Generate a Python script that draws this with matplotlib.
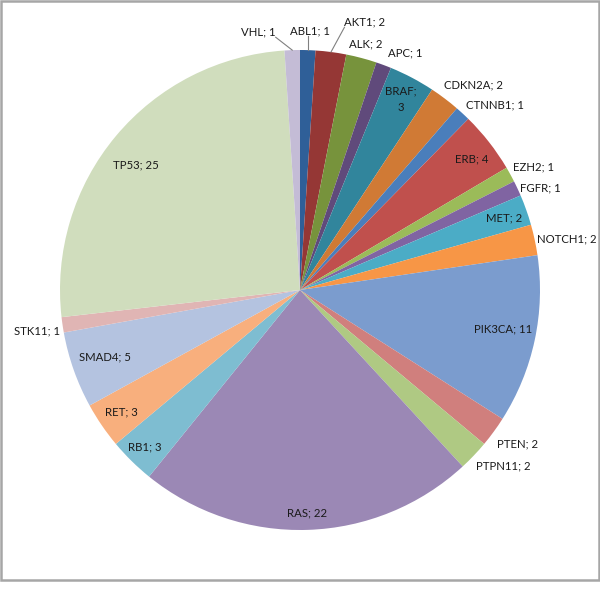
import numpy as np
import matplotlib
matplotlib.use("Agg")
import matplotlib.pyplot as plt
from matplotlib.patches import Rectangle

# gene counts, clockwise from 12 o'clock
genes = ["ABL1", "AKT1", "ALK", "APC", "BRAF", "CDKN2A", "CTNNB1", "ERB",
         "EZH2", "FGFR", "MET", "NOTCH1", "PIK3CA", "PTEN", "PTPN11", "RAS",
         "RB1", "RET", "SMAD4", "STK11", "TP53", "VHL"]
counts = [1, 2, 2, 1, 3, 2, 1, 4, 1, 1, 2, 2, 11, 2, 2, 22, 3, 3, 5, 1, 25, 1]

colors = ["#2F5F98", "#953735", "#77933C", "#604A7B", "#31859C", "#D07A35",
          "#4A7EBB", "#C0504D", "#9BBB59", "#8064A2", "#4BACC6", "#F79646",
          "#7B9CCE", "#D07F7D", "#AFC983", "#9B88B5", "#7EBDD1", "#F8AF7D",
          "#B4C3E0", "#E0B5B4", "#D0DDBD", "#C4BCD6"]

# label placement: (distance in radii, angle shift in degrees)
label_pos = {
    "ABL1": (1.08, 0.3), "AKT1": (1.15, 6.2), "ALK": (1.06, 0.2),
    "APC": (1.08, 3.6), "BRAF": (0.90, 0), "CDKN2A": (1.12, 3.2),
    "CTNNB1": (1.12, 3.7), "ERB": (0.90, 0.8), "EZH2": (1.10, 0.9),
    "FGFR": (1.09, 2.0), "MET": (0.90, 0), "NOTCH1": (1.13, 1.2),
    "PIK3CA": (0.86, -1.2), "PTEN": (1.11, -1.0), "PTPN11": (1.12, -2.8),
    "RAS": (0.93, 0), "RB1": (0.92, 0), "RET": (0.90, 0),
    "SMAD4": (0.86, 0.5), "STK11": (1.11, -0.5), "TP53": (0.86, -2.7),
    "VHL": (1.09, -7.3),
}
leaders = ["VHL", "ABL1", "AKT1"]


def main():
    plt.rcParams["font.family"] = ["Lato", "DejaVu Sans"]
    fig = plt.figure(figsize=(6, 5.9), dpi=100)
    ax = fig.add_axes([0, 0, 1, 1])

    cx, cy, r = 300, 300, 240
    ax.pie(counts, colors=colors, startangle=90, counterclock=False,
           center=(cx, cy), radius=r, wedgeprops=dict(linewidth=0))
    ax.set_xlim(0, 600)
    ax.set_ylim(0, 590)
    ax.set_aspect("equal")
    ax.axis("off")

    total = sum(counts)
    cum = np.cumsum([0] + counts)
    texts = {}
    for i, g in enumerate(genes):
        mid = (cum[i] + counts[i] / 2) / total * 360
        dist, shift = label_pos[g]
        th = np.radians(mid + shift)
        x = cx + dist * r * np.sin(th)
        y = cy + dist * r * np.cos(th)
        s = f"{g};\n{counts[i]}" if g == "BRAF" else f"{g}; {counts[i]}"
        texts[g] = (ax.text(x, y, s, ha="center", va="center", fontsize=8.2,
                            color="#1A1A1A", linespacing=1.6), mid)

    # leader lines from slice edge to nearest side of the label box
    fig.canvas.draw()
    inv = ax.transData.inverted()
    for g in leaders:
        t, mid = texts[g]
        bb = t.get_window_extent().transformed(inv)
        ex = cx + r * np.sin(np.radians(mid))
        ey = cy + r * np.cos(np.radians(mid))
        nx = min(max(ex, bb.x0), bb.x1)
        ny = min(max(ey, bb.y0), bb.y1)
        ax.plot([ex, nx], [ey, ny], color="#808080", linewidth=0.8)

    # chart area border
    ax.add_patch(Rectangle((1, 10.5), 597.5, 579, fill=False,
                           edgecolor="#A6A6A6", linewidth=1.8, clip_on=False))

    fig.savefig("out.png", dpi=100)


if __name__ == "__main__":
    main()
